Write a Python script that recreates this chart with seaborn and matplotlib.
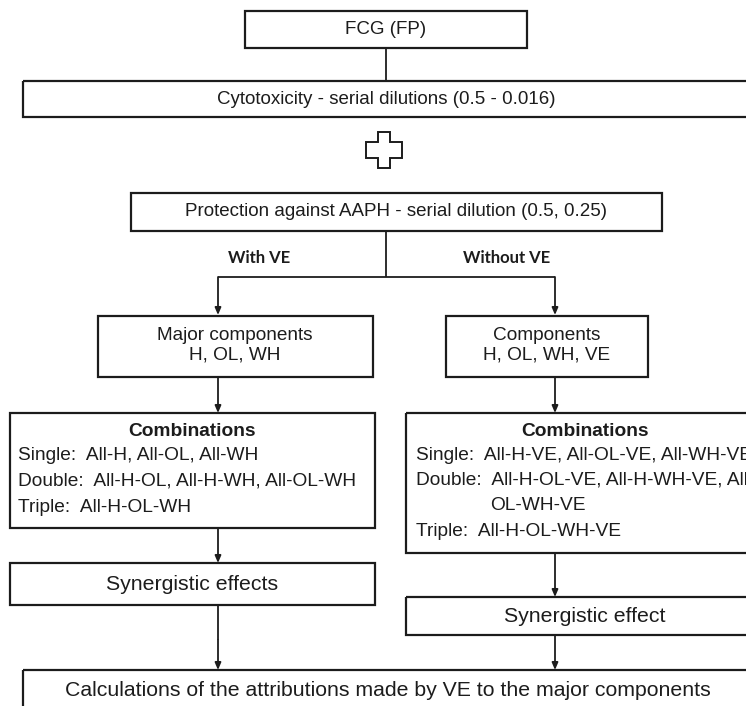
import matplotlib
matplotlib.use("Agg")
import matplotlib.pyplot as plt
import seaborn as sns
from matplotlib.patches import Rectangle, Polygon

# --- Text content of the flowchart ---
TOP_LABELS = [
    "FCG (FP)",
    "Cytotoxicity - serial dilutions (0.5 - 0.016)",
    "Protection against AAPH - serial dilution (0.5, 0.25)",
]
BRANCH_LABELS = ["With VE", "Without VE"]
COMPONENT_LABELS = ["Major components\nH, OL, WH", "Components\nH, OL, WH, VE"]
COMBO_TITLE = "Combinations"
LEFT_COMBOS = [
    "Single:  All-H, All-OL, All-WH",
    "Double:  All-H-OL, All-H-WH, All-OL-WH",
    "Triple:  All-H-OL-WH",
]
RIGHT_COMBOS = [
    "Single:  All-H-VE, All-OL-VE, All-WH-VE",
    "Double:  All-H-OL-VE, All-H-WH-VE, All-",
    "OL-WH-VE",
    "Triple:  All-H-OL-WH-VE",
]
EFFECT_LABELS = ["Synergistic effects", "Synergistic effect"]
FINAL_LABEL = "Calculations of the attributions made by VE to the major components"

# --- Style ---
sns.set_theme(style="white")
plt.rcParams["font.family"] = ["Liberation Sans", "DejaVu Sans"]
INK = "#1c1c1c"
W, H = 746, 706

fig = plt.figure(figsize=(W / 100, H / 100), dpi=100)
ax = fig.add_axes([0, 0, 1, 1])
ax.set_xlim(0, W)
ax.set_ylim(H, 0)
ax.axis("off")


def box(x0, y0, x1, y1):
    ax.add_patch(Rectangle((x0, y0), x1 - x0, y1 - y0, fill=False,
                           edgecolor=INK, lw=1.6, clip_on=False))


def line(xs, ys):
    ax.plot(xs, ys, color=INK, lw=1.3, solid_capstyle="butt")


def arrow(x, y0, y1):
    ax.annotate("", xy=(x, y1), xytext=(x, y0),
                arrowprops=dict(arrowstyle="-|>,head_length=0.35,head_width=0.15",
                                color=INK, lw=1.3, shrinkA=0, shrinkB=0))


def label(x, y, s, size, **kw):
    ax.text(x, y, s, ha=kw.pop("ha", "center"), va="center", fontsize=size,
            color=INK, **kw)


# top chain
box(245, 11, 527, 48)
label(386, 30, TOP_LABELS[0], 13.5)
line([386, 386], [48, 81])
box(23, 81, 760, 117)
label(386, 99, TOP_LABELS[1], 13.5)

# outlined plus sign
cx, cy, a, tv, th = 384, 150, 18, 6, 8
plus = [(cx - tv, cy - a), (cx + tv, cy - a), (cx + tv, cy - th), (cx + a, cy - th),
        (cx + a, cy + th), (cx + tv, cy + th), (cx + tv, cy + a), (cx - tv, cy + a),
        (cx - tv, cy + th), (cx - a, cy + th), (cx - a, cy - th), (cx - tv, cy - th)]
ax.add_patch(Polygon(plus, closed=True, fill=False, edgecolor=INK, lw=1.4))

box(131, 193, 662, 231)
label(396, 212, TOP_LABELS[2], 13.5)

# split
line([386, 386], [231, 277])
line([218, 555], [277, 277])
arrow(218, 277, 315)
arrow(555, 277, 315)
label(259, 258, BRANCH_LABELS[0], 12, family=["Lato", "DejaVu Sans"], weight="bold")
label(507, 258, BRANCH_LABELS[1], 12, family=["Lato", "DejaVu Sans"], weight="bold")

# components
box(98, 316, 373, 377)
label(235, 345, COMPONENT_LABELS[0], 13.7, linespacing=1.2)
box(446, 316, 648, 377)
label(547, 345, COMPONENT_LABELS[1], 13.7, linespacing=1.2)

# combinations
arrow(218, 377, 413)
box(10, 413, 375, 528)
label(192, 432, COMBO_TITLE, 13.8, weight="bold")
for i, s in enumerate(LEFT_COMBOS):
    label(18, 456 + 25.5 * i, s, 13.8, ha="left")

arrow(555, 377, 413)
box(406, 413, 760, 553)
label(585, 432, COMBO_TITLE, 13.8, weight="bold")
label(416, 456, RIGHT_COMBOS[0], 13.8, ha="left")
label(416, 480, RIGHT_COMBOS[1], 13.8, ha="left")
label(490, 505, RIGHT_COMBOS[2], 13.8, ha="left")
label(416, 531, RIGHT_COMBOS[3], 13.8, ha="left")

# effects
arrow(218, 528, 563)
box(10, 563, 375, 605)
label(192, 585, EFFECT_LABELS[0], 15.3)
arrow(555, 553, 597)
box(406, 597, 760, 635)
label(585, 616, EFFECT_LABELS[1], 15.3)

# final
line([218, 218], [605, 640])
arrow(218, 640, 670)
arrow(555, 635, 670)
box(23, 670, 760, 730)
label(388, 691, FINAL_LABEL, 15.3)

fig.savefig("out.png", dpi=100)
